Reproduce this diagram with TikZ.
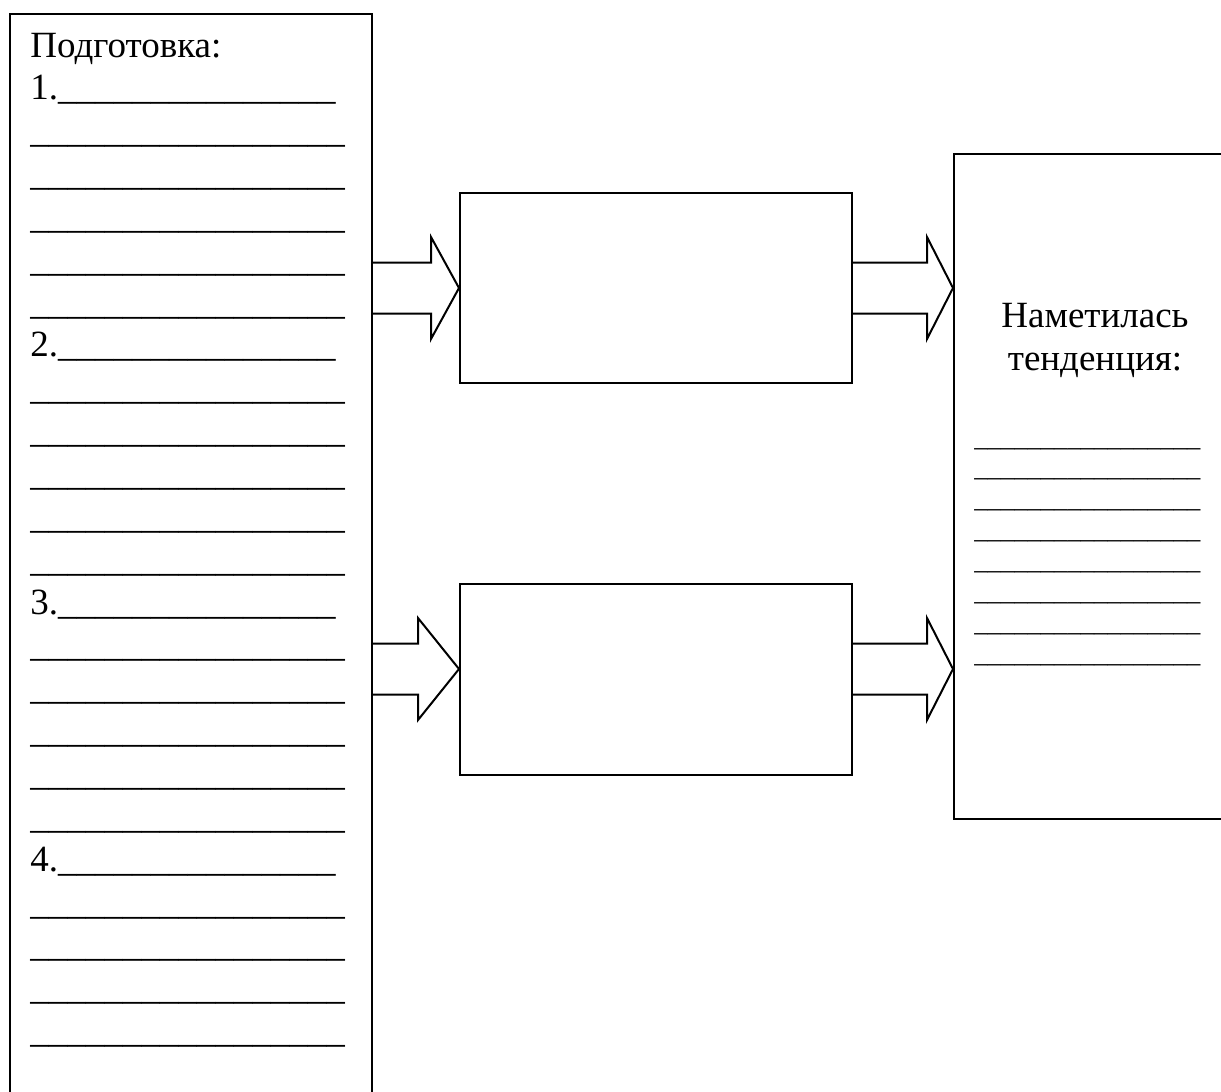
\documentclass[tikz,border=0pt]{standalone}
\usepackage{fontspec}
\setmainfont{Liberation Serif}
\usetikzlibrary{positioning, calc}
\tikzset{wire/.style={line width=1pt}}
\tikzset{panel/.style={draw, line width=1pt, inner sep=0pt, anchor=north west}}
\tikzset{bigtext/.style={inner sep=0pt, font=\fontsize{18.5}{21.4}\selectfont}}
\tikzset{smalltext/.style={inner sep=0pt, font=\fontsize{13.3}{15.5}\selectfont}}
\newcommand{\blankfull}{\_\_\_\_\_\_\_\_\_\_\_\_\_\_\_\_\_}
\newcommand{\blanknum}{\_\_\_\_\_\_\_\_\_\_\_\_\_\_\_}
% block arrow: start, tip, head length
\newcommand{\blockarrow}[3]{%
  \draw[wire] ($(#1)+(0,-25.5)$) -- ($(#2)+(-#3,-25.5)$) -- ($(#2)+(-#3,-51)$) -- (#2)
    -- ($(#2)+(-#3,51)$) -- ($(#2)+(-#3,25.5)$) -- ($(#1)+(0,25.5)$);}

\begin{document}
\begin{tikzpicture}[x=0.5pt, y=-0.5pt]
  \useasboundingbox (0,0) rectangle (1221,1092);
  \clip (0,0) rectangle (1221,1092);
  % boxes (sizes in pt, half the pixel size)
  \node[panel, minimum width=181pt, minimum height=550pt] (prep) at (9,13) {};
  \node[panel, minimum width=196pt, minimum height=95pt] (stepA) at (459,192) {};
  \node[panel, minimum width=196pt, minimum height=95.5pt] (stepB) at (459,583) {};
  \node[panel, minimum width=145pt, minimum height=332.5pt] (trend) at (953,153) {};

  % left column
  \node[bigtext, anchor=base west] (title) at (30,57) {Подготовка:};
  \foreach \k in {1,...,4} {
    \pgfmathtruncatemacro\r{6*\k-5}
    \node[bigtext, anchor=base west] (num\k) at (30,57+42.85*\r) {\k.\blanknum};
  }
  \foreach \r in {2,3,4,5,6,8,9,10,11,12,14,15,16,17,18,20,21,22,23}
    \node[bigtext, anchor=base west] (ln\r) at (30,57+42.85*\r) {\blankfull};

  % right column
  \node[bigtext, anchor=base] (trendA) at (1095,327) {Наметилась};
  \node[bigtext, anchor=base] (trendB) at (1095,370) {тенденция:};
  \foreach \i in {0,...,7}
    \node[smalltext, anchor=base west] (rl\i) at (974,446+30.9*\i) {\blankfull};

  % arrows
  \coordinate (aTip) at (stepA.west);
  \coordinate (bTip) at (stepB.west |- 0,669);
  \blockarrow{prep.east |- aTip}{aTip}{28}
  \blockarrow{prep.east |- bTip}{bTip}{41}
  \blockarrow{stepA.east |- aTip}{trend.west |- aTip}{26}
  \blockarrow{stepB.east |- bTip}{trend.west |- bTip}{26}
\end{tikzpicture}
\end{document}
